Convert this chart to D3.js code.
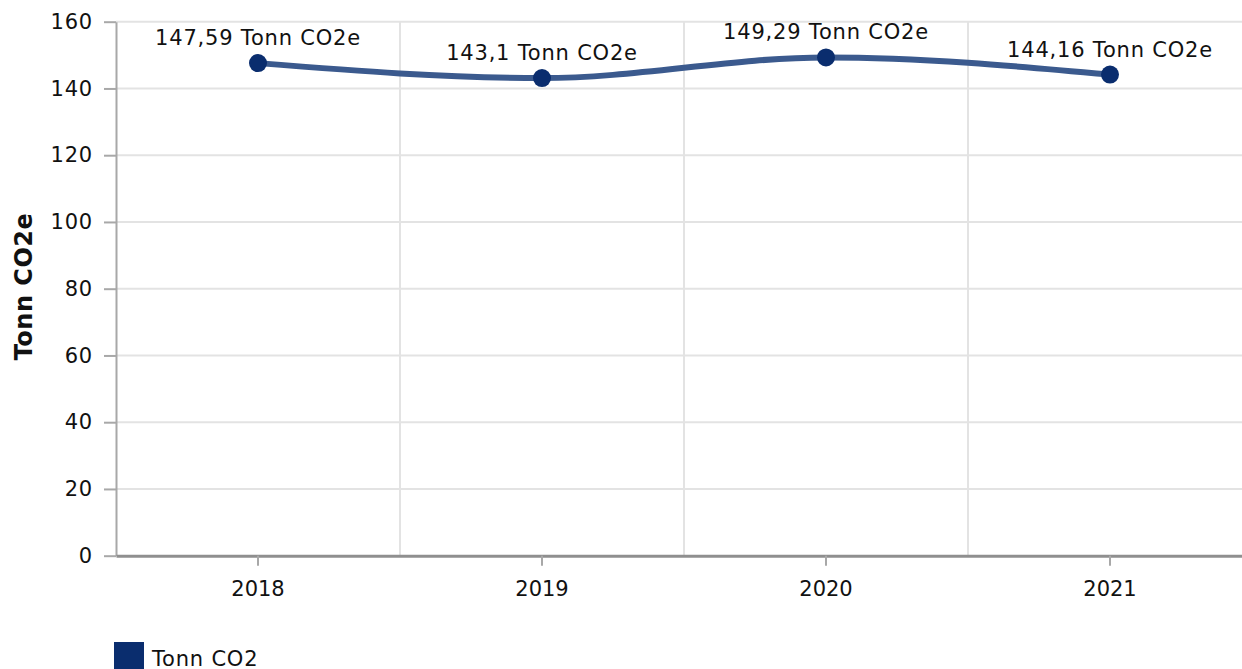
<!DOCTYPE html>
<html><head><meta charset="utf-8">
<script src="https://cdn.jsdelivr.net/npm/d3@7"></script>
<style>html,body{margin:0;padding:0;background:#fff;overflow:hidden}</style>
</head><body>
<svg id="c" width="1242" height="669"></svg>
<script>
const categories = ["2018", "2019", "2020", "2021"];
const values = [147.59, 143.1, 149.29, 144.16];
const labels = ["147,59 Tonn CO2e", "143,1 Tonn CO2e", "149,29 Tonn CO2e", "144,16 Tonn CO2e"];
const yTicks = [0, 20, 40, 60, 80, 100, 120, 140, 160];
const seriesName = "Tonn CO2";
const yTitle = "Tonn CO2e";

(function () {
const font = "'DejaVu Sans', Verdana, sans-serif";
const svg = d3.select("#c");
const pLeft = 116, pRight = 1252, pTop = 21.7, pBottom = 555.7;

const x = d3.scaleBand().domain(categories).range([pLeft, pRight]);
const y = d3.scaleLinear().domain([0, 160]).range([pBottom, pTop]);

// horizontal grid
svg.append("g").selectAll("line").data(yTicks.filter(t => t > 0)).join("line")
  .attr("x1", pLeft).attr("x2", 1242)
  .attr("y1", d => y(d)).attr("y2", d => y(d))
  .attr("stroke", "#e3e3e3").attr("stroke-width", 2);

// vertical grid at band boundaries
svg.append("g").selectAll("line").data(categories.slice(1)).join("line")
  .attr("x1", d => x(d)).attr("x2", d => x(d))
  .attr("y1", pTop).attr("y2", pBottom)
  .attr("stroke", "#e3e3e3").attr("stroke-width", 2);

// y axis
const yAxis = svg.append("g").attr("transform", `translate(${pLeft},0)`)
  .call(d3.axisLeft(y).tickValues(yTicks).tickSize(12).tickSizeOuter(0).tickPadding(11));
yAxis.select(".domain").attr("stroke", "#a8a8a8").attr("stroke-width", 2);
yAxis.selectAll(".tick line").attr("stroke", "#a8a8a8").attr("stroke-width", 2);
yAxis.selectAll("text").attr("font-family", font).attr("font-size", 21)
  .attr("letter-spacing", 0.8).attr("fill", "#111");

// x axis
const xAxis = svg.append("g").attr("transform", `translate(0,${pBottom})`)
  .call(d3.axisBottom(x).tickSize(10).tickSizeOuter(0).tickPadding(15));
xAxis.select(".domain").attr("stroke", "#8f8f8f").attr("stroke-width", 3);
xAxis.selectAll(".tick line").attr("stroke", "#a8a8a8").attr("stroke-width", 2);
xAxis.selectAll("text").attr("font-family", font).attr("font-size", 21).attr("fill", "#111");

// y title
svg.append("text")
  .attr("transform", `translate(32,286.5) rotate(-90)`)
  .attr("text-anchor", "middle")
  .attr("font-family", font).attr("font-weight", "bold").attr("font-size", 24)
  .attr("letter-spacing", 0.5)
  .attr("fill", "#111").text(yTitle);

const data = categories.map((c, i) => ({c, v: values[i], l: labels[i]}));
const cx = d => x(d.c) + x.bandwidth() / 2;

const line = d3.line().x(cx).y(d => y(d.v)).curve(d3.curveMonotoneX);
svg.append("path").datum(data).attr("d", line)
  .attr("fill", "none").attr("stroke", "#3b5a8e").attr("stroke-width", 6);

svg.append("g").selectAll("circle").data(data).join("circle")
  .attr("cx", cx).attr("cy", d => y(d.v)).attr("r", 9).attr("fill", "#0a2d6e");

svg.append("g").selectAll("text").data(data).join("text")
  .attr("x", cx).attr("y", d => y(d.v) - 18)
  .attr("text-anchor", "middle")
  .attr("font-family", font).attr("font-size", 21).attr("letter-spacing", 0.8)
  .attr("fill", "#111")
  .text(d => d.l);

// legend
svg.append("rect").attr("x", 114).attr("y", 642).attr("width", 30).attr("height", 30).attr("fill", "#0a2d6e");
svg.append("text").attr("x", 152).attr("y", 665.5)
  .attr("font-family", font).attr("font-size", 21).attr("letter-spacing", 0.8)
  .attr("fill", "#111").text(seriesName);
})();
</script>
</body></html>
